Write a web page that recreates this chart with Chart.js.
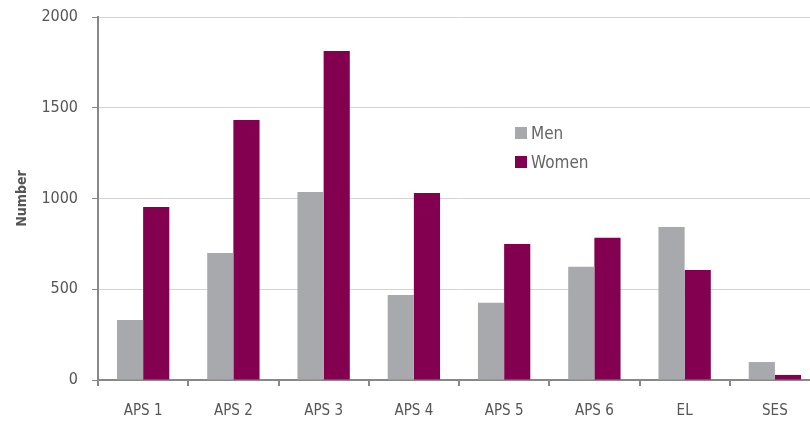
<!DOCTYPE html>
<html>
<head>
<meta charset="utf-8">
<script src="https://cdn.jsdelivr.net/npm/chart.js@4"></script>
<style>
  body { margin: 0; overflow: hidden; background: #fff; }
  #wrap { position: relative; width: 820px; height: 421px; }
  #legend { position: absolute; left: 515px; top: 118px; font-family: 'DejaVu Sans Condensed', 'Liberation Sans Narrow', sans-serif; font-size: 17px; color: #666; }
  .legend-item { display: flex; align-items: center; height: 29px; }
  .legend-box { width: 12px; height: 12px; margin-right: 4px; }
</style>
</head>
<body>
<div id="wrap">
  <canvas id="myBarChart"></canvas>
  <div id="legend"></div>
</div>
<script>
// DATA
const categories = ['APS 1', 'APS 2', 'APS 3', 'APS 4', 'APS 5', 'APS 6', 'EL', 'SES'];
const menValues = [330, 700, 1036, 468, 426, 624, 843, 99];
const womenValues = [953, 1432, 1813, 1030, 749, 784, 606, 28];
const yTicks = [0, 500, 1000, 1500, 2000];

const fontFamily = "'DejaVu Sans Condensed', 'Liberation Sans Narrow', sans-serif";

//BARGRAPH
function drawBarChart() {
  const barChart = document.getElementById('myBarChart');

  const chartInstance = new Chart(barChart, {
    type: 'bar',
    data: {
      labels: categories,
      datasets: [{
        label: 'Men',
        data: menValues,
        backgroundColor: '#a8a9ad'
      },
      {
        label: 'Women',
        data: womenValues,
        backgroundColor: '#830051'
      }]
    },
    options: {
      responsive: true,
      maintainAspectRatio: false,
      animation: false,
      layout: { padding: { top: 17, right: 0, left: 0, bottom: 0 } },
      plugins: {
        legend: { display: false },
        tooltip: { enabled: false }
      },
      datasets: {
        bar: { categoryPercentage: 0.58, barPercentage: 1.0 }
      },
      scales: {
        x: {
          grid: { drawOnChartArea: false, color: '#888', tickLength: 6, lineWidth: 2 },
          border: { color: '#888', width: 2 },
          ticks: { color: '#555', font: { family: fontFamily, size: 15 }, padding: 16 },
          afterFit: scale => { scale.height = 41; }
        },
        y: {
          min: 0,
          max: 2000,
          afterBuildTicks: scale => { scale.ticks = yTicks.map(v => ({ value: v })); },
          grid: { color: '#d4d4d4', tickColor: '#888', tickLength: 6, lineWidth: 1 },
          border: { color: '#888', width: 2 },
          ticks: {
            color: '#555',
            font: { family: fontFamily, size: 16 },
            padding: 14,
            callback: value => String(value)
          },
          title: {
            display: true,
            text: 'Number',
            color: '#555',
            font: { family: fontFamily, size: 14, weight: 'bold' },
            padding: { top: 14, bottom: 0 }
          },
          afterFit: scale => {
            scale.width = 98;
            scale.paddingTop = 0;
            scale.paddingBottom = 0;
          }
        }
      }
    }
  });

  barChart.chartInstance = chartInstance;
  buildLegend(chartInstance);
}

// LEGEND
function buildLegend(chart) {
  const legendElement = document.getElementById('legend');
  chart.data.datasets.forEach(ds => {
    const item = document.createElement('div');
    item.className = 'legend-item';
    const box = document.createElement('span');
    box.className = 'legend-box';
    box.style.background = ds.backgroundColor;
    const text = document.createElement('span');
    text.textContent = ds.label;
    item.appendChild(box);
    item.appendChild(text);
    legendElement.appendChild(item);
  });
}

drawBarChart();
</script>
</body>
</html>
